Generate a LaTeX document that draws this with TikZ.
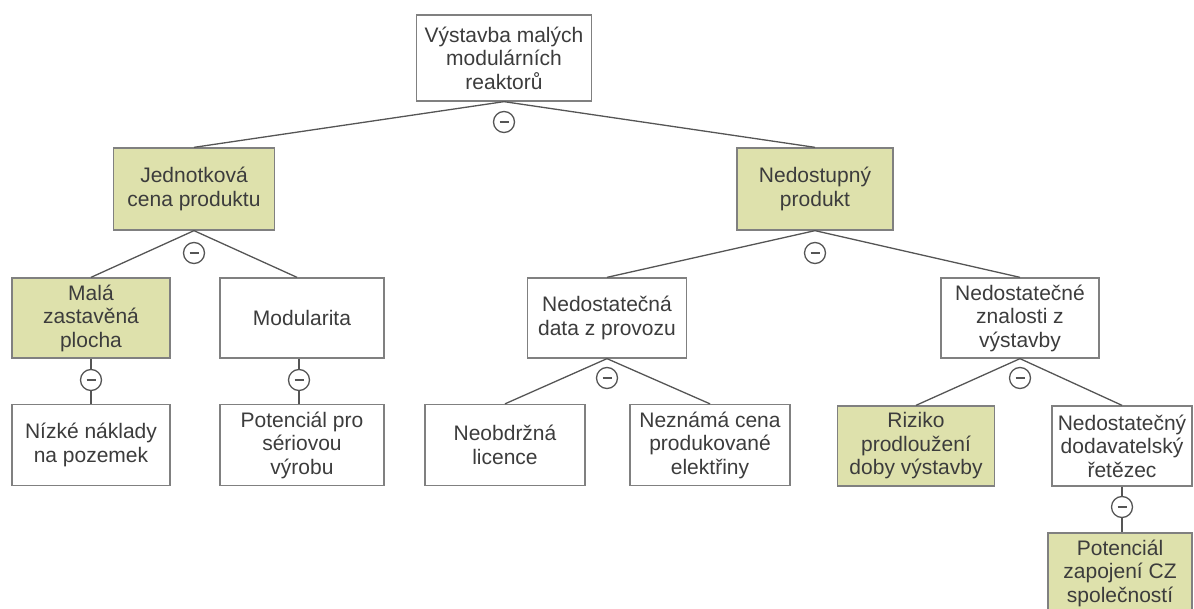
\documentclass[tikz,border=0pt]{standalone}
\usepackage{fontspec}
\setmainfont{Liberation Sans}
\usepackage{xcolor}
\usepackage{tikz}
\definecolor{boxfill}{HTML}{DEE1AC}
\definecolor{boxline}{HTML}{808080}
\definecolor{txtgray}{HTML}{3C3C3C}
\definecolor{linegray}{HTML}{555555}

\begin{document}
\begin{tikzpicture}[x=1pt, y=-1pt,
    every node/.style={font=\fontsize{21}{23.5}\selectfont, text=txtgray},
    box/.style={draw=boxline, line width=1.3pt, fill=white, minimum width=158pt, minimum height=80pt, inner sep=2pt, align=center},
    hbox/.style={box, fill=boxfill},
    minusc/.style={circle, draw=linegray, line width=1.3pt, minimum size=21pt, inner sep=0pt,
        path picture={\draw[linegray, line width=1.6pt] ([xshift=-4.5pt]path picture bounding box.center) -- ([xshift=4.5pt]path picture bounding box.center);}},
    conn/.style={draw=linegray, line width=1.3pt}]
        \useasboundingbox (0,0) rectangle (1194,609);
        \clip (0,0) rectangle (1194,609);
        \node[box, minimum width=175pt, minimum height=86pt] (top) at (504,58) {Výstavba malých\\ modulárních\\ reaktorů};
        \node[hbox, minimum width=161pt, minimum height=82pt] (jcena) at (194,189) {Jednotková\\ cena produktu};
        \node[hbox, minimum width=156pt, minimum height=82pt] (nedost) at (815,189) {Nedostupný\\ produkt};
        \node[hbox] (mala) at (91,318) {Malá\\ zastavěná\\ plocha};
        \node[box, minimum width=164pt] (modul) at (302,318) {Modularita};
        \node[box, minimum width=159pt] (ndata) at (607,318) {Nedostatečná\\ data z provozu};
        \node[box] (nznal) at (1020,318) {Nedostatečné\\ znalosti z\\ výstavby};
        \node[box, minimum height=81pt] (nizke) at (91,445) {Nízké náklady\\ na pozemek};
        \node[box, minimum width=164pt, minimum height=81pt] (potser) at (302,445) {Potenciál pro\\ sériovou\\ výrobu};
        \node[box, minimum width=160pt, minimum height=81pt] (licence) at (505,445) {Neobdržná\\ licence};
        \node[box, minimum width=160pt, minimum height=81pt] (cenael) at (710,445) {Neznámá cena\\ produkované\\ elektřiny};
        \node[hbox, minimum width=157pt] (riziko) at (916,446) {Riziko\\ prodloužení\\ doby výstavby};
        \node[box, minimum width=140pt] (dodav) at (1122,446) {Nedostatečný\\ dodavatelský\\ řetězec};
        \node[hbox, minimum width=144pt] (czspol) at (1120,573) {Potenciál\\ zapojení CZ\\ společností};
        \node[minusc] (m0) at (504,122) {};
        \node[minusc] (m1) at (194,253) {};
        \node[minusc] (m2) at (815,253) {};
        \node[minusc] (m3) at (91,380) {};
        \node[minusc] (m4) at (299,380) {};
        \node[minusc] (m5) at (607,378) {};
        \node[minusc] (m6) at (1020,378) {};
        \node[minusc] (m7) at (1122,507) {};
        \draw[conn] (top.south) -- (jcena.north);
        \draw[conn] (top.south) -- (nedost.north);
        \draw[conn] (jcena.south) -- (mala.north);
        \draw[conn] (jcena.south) -- ([xshift=-5pt]modul.north);
        \draw[conn] (nedost.south) -- (ndata.north);
        \draw[conn] (nedost.south) -- (nznal.north);
        \draw[conn] (ndata.south) -- (licence.north);
        \draw[conn] (ndata.south) -- (cenael.north);
        \draw[conn] (nznal.south) -- (riziko.north);
        \draw[conn] (nznal.south) -- (dodav.north);
        \draw[conn] (mala.south) -- (m3);
        \draw[conn] (m3) -- (nizke.north);
        \draw[conn] ([xshift=-3pt]modul.south) -- (m4);
        \draw[conn] (m4) -- ([xshift=-3pt]potser.north);
        \draw[conn] (dodav.south) -- (m7);
        \draw[conn] (m7) -- (czspol.north -| m7);
      \end{tikzpicture}
\end{document}
